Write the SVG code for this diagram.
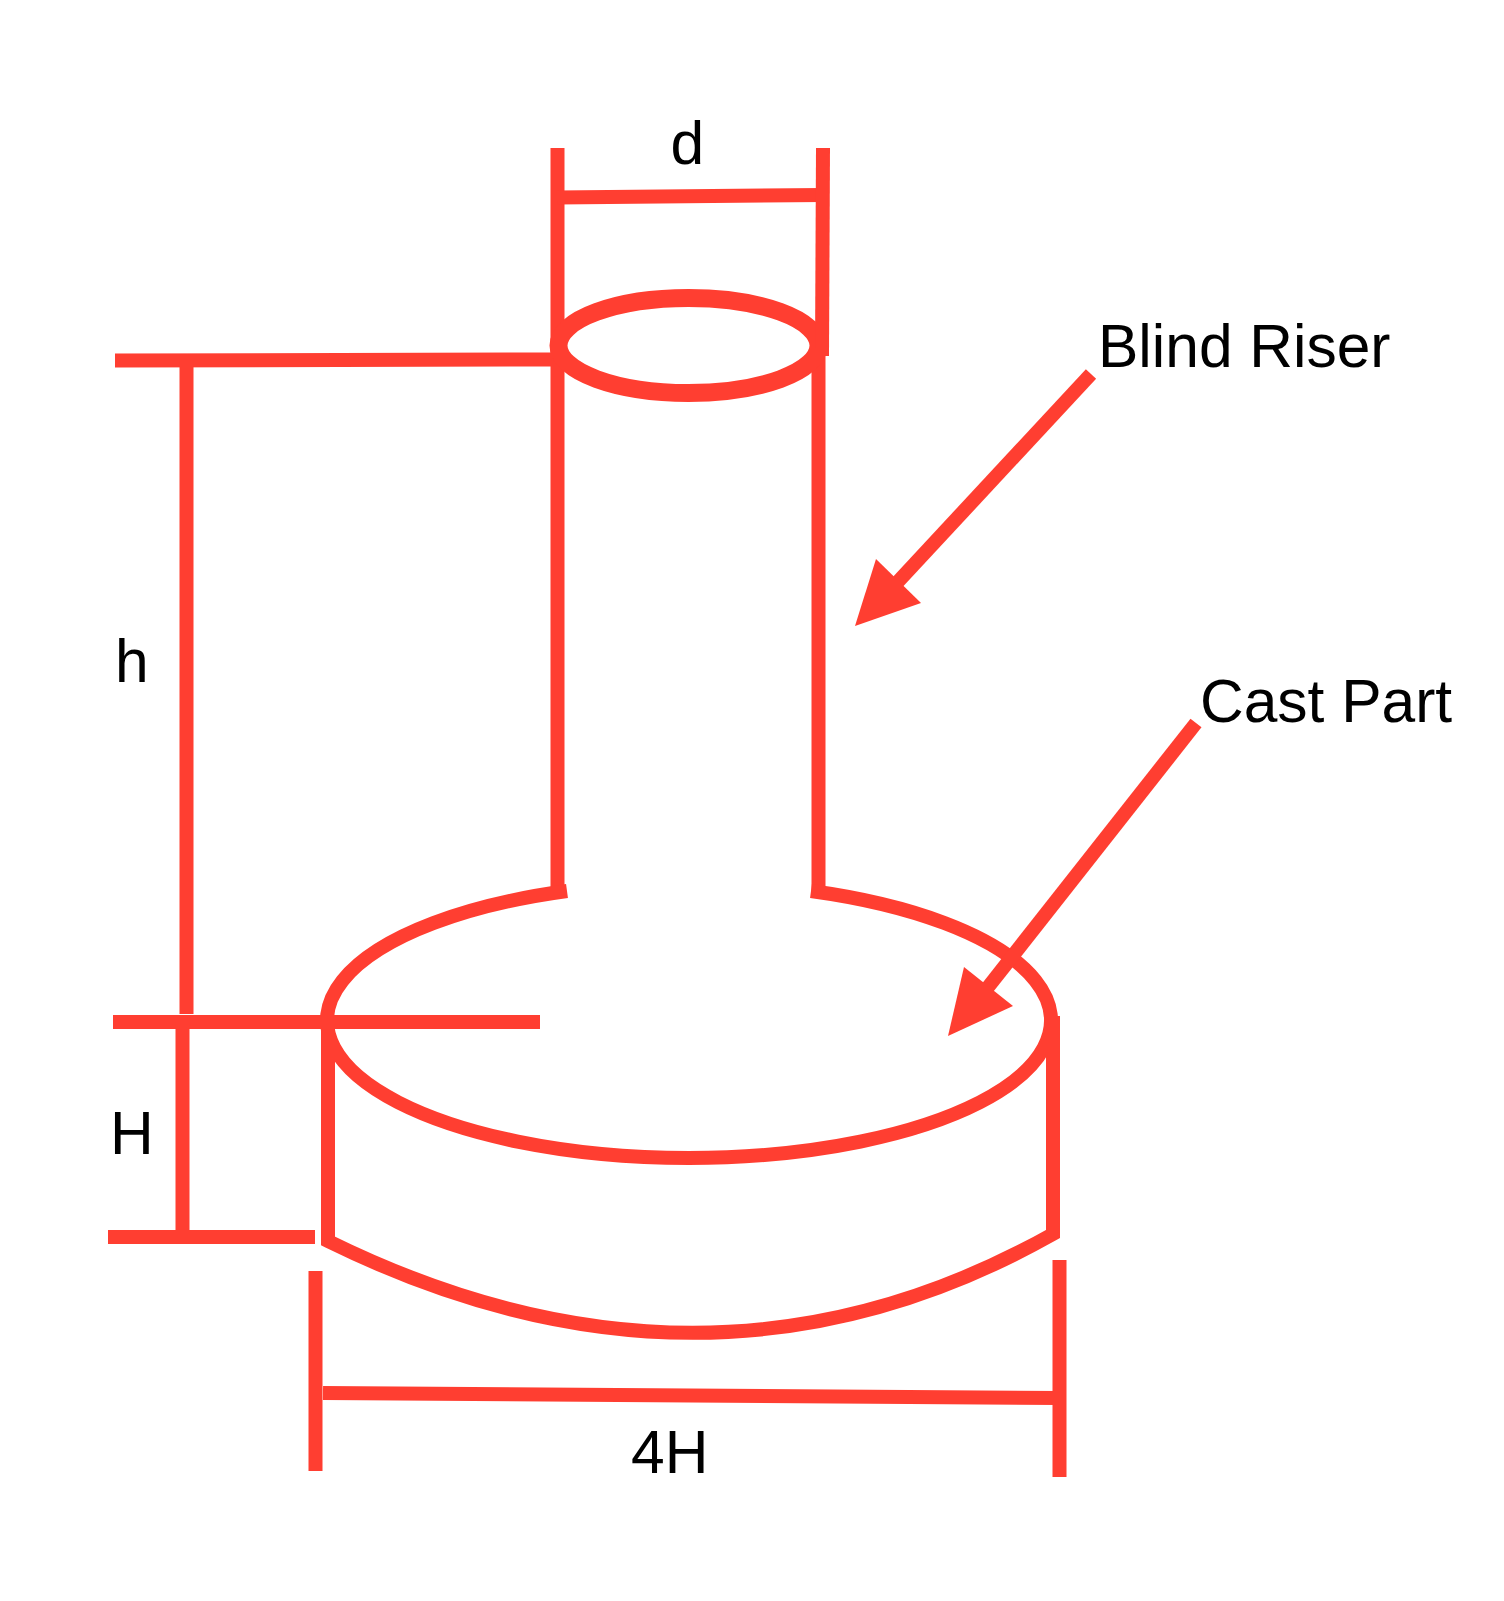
<svg xmlns="http://www.w3.org/2000/svg" width="1504" height="1601" viewBox="0 0 1504 1601">
<style>
.l{fill:none;stroke:#ff3e31;stroke-width:14;stroke-miterlimit:10}
.a{fill:#ff3e31;stroke:none}
text{font-family:"Liberation Sans",Arial,sans-serif;font-size:60.5px;fill:#000}
</style>
<rect width="1504" height="1601" fill="#fff"/>
<g id="riser">
<line class="l" x1="557.5" y1="148" x2="557.5" y2="895"/>
<line class="l" x1="818.5" y1="352" x2="818.5" y2="893"/>
<ellipse class="l" cx="688.5" cy="345.500" rx="130" ry="47.5" style="stroke-width:18"/>
</g>
<g id="cast-part">
<path class="l" d="M567 891A362 137.500 0 1 0 811 891"/>
<path class="l" d="M328 1022V1241Q708 1428 1053 1234V1016"/>
</g>
<g id="connectors">
<line class="l" x1="557" y1="197.500" x2="823" y2="195"/>
<line class="l" x1="823" y1="148" x2="822" y2="356"/>
<line class="l" x1="115" y1="360.500" x2="552" y2="359.500"/>
<line class="l" x1="186.500" y1="360" x2="186.500" y2="1014"/>
<line class="l" x1="113" y1="1022" x2="540" y2="1022"/>
<line class="l" x1="182.500" y1="1022" x2="182.500" y2="1237"/>
<line class="l" x1="108" y1="1237" x2="315" y2="1237"/>
<line class="l" x1="315.500" y1="1271" x2="315.500" y2="1471"/>
<line class="l" x1="1059.500" y1="1260" x2="1059.500" y2="1477"/>
<line class="l" x1="323" y1="1393" x2="1059" y2="1398"/>
<line class="l" x1="1091" y1="374" x2="894" y2="586"/>
<polygon class="a" points="855,626 876,559 921,603"/>
<line class="l" x1="1196" y1="723" x2="985" y2="991"/>
<polygon class="a" points="948,1036 964,967 1013,1006"/>
</g>
<g id="labels">
<text x="670.500" y="164">d</text>
<text x="115" y="682">h</text>
<text x="110" y="1154">H</text>
<text x="631" y="1473">4H</text>
<text x="1098" y="367">Blind Riser</text>
<text x="1200" y="722">Cast Part</text>
</g>
</svg>
